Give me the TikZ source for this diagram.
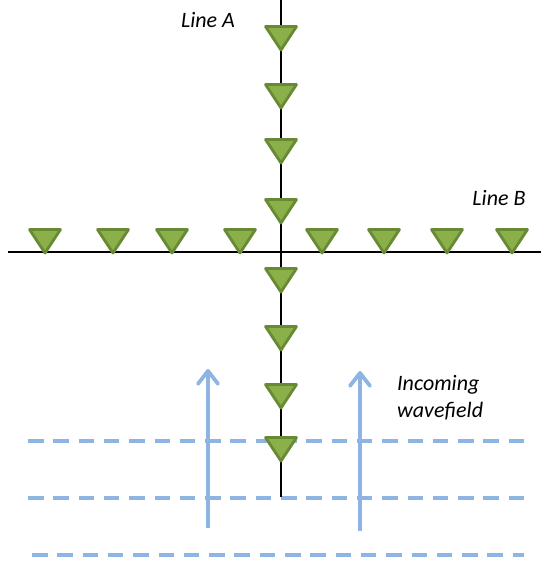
\documentclass[tikz,border=0pt]{standalone}
\usepackage{fontspec}
\setmainfont{Carlito}
\usetikzlibrary{arrows.meta}
\definecolor{rcvfill}{RGB}{139,176,74}
\definecolor{rcvdraw}{RGB}{104,138,52}
\definecolor{wave}{RGB}{141,180,227}
\tikzset{
  rcv/.pic={\path[fill=rcvfill,draw=rcvdraw,line width=2.8pt,line join=round]
     (-15.5,0)--(15.5,0)--(0,23.5)--cycle;},
  survey/.style={line width=2pt,black},
  wavefront/.style={wave,line width=3.2pt,dash pattern=on 15.5pt off 9.8pt},
  incoming/.style={wave,line width=3.8pt,-{Straight Barb[length=13pt,width=20pt,line cap=round,line join=round]}},
  lbl/.style={font=\fontsize{22}{27}\selectfont\itshape,inner sep=0pt}
}
\begin{document}
\begin{tikzpicture}[x=1pt,y=-1pt]
\useasboundingbox (0,0) rectangle (541,565);
% wavefronts
\coordinate (w1a) at (28,441); \coordinate (w1b) at (524,441);
\coordinate (w2a) at (28,498); \coordinate (w2b) at (524,498);
\coordinate (w3a) at (32,555); \coordinate (w3b) at (524,555);
\draw[wavefront] (w1a) -- (w1b);
\draw[wavefront] (w2a) -- (w2b);
\draw[wavefront] (w3a) -- (w3b);
% survey lines
\coordinate (a0) at (281,0); \coordinate (a1) at (281,497);
\coordinate (b0) at (8,252); \coordinate (b1) at (541,252);
\draw[survey] (a0) -- (a1);
\draw[survey] (b0) -- (b1);
% receivers line A
\foreach \y in {26.5,84.5,139.5,199.5,268.5,326.5,384.5,437.5}
  \pic at (281,\y) {rcv};
% receivers line B
\foreach \x in {45,113,172,240,322,384,447,512}
  \pic at (\x,229.5) {rcv};
% incoming arrows
\coordinate (p1s) at (208,528); \coordinate (p1e) at (208,369);
\coordinate (p2s) at (360,531); \coordinate (p2e) at (360,371);
\draw[incoming] (p1s) -- (p1e);
\draw[incoming] (p2s) -- (p2e);
% labels
\node[lbl,anchor=base] (la) at (208,27) {Line A};
\node[lbl,anchor=base] (lb) at (499,205) {Line B};
\node[lbl,anchor=base west] (lw) at (397,390) {Incoming};
\node[lbl,anchor=base west] (lw2) at (397,417) {wavefield};
\end{tikzpicture}
\end{document}
